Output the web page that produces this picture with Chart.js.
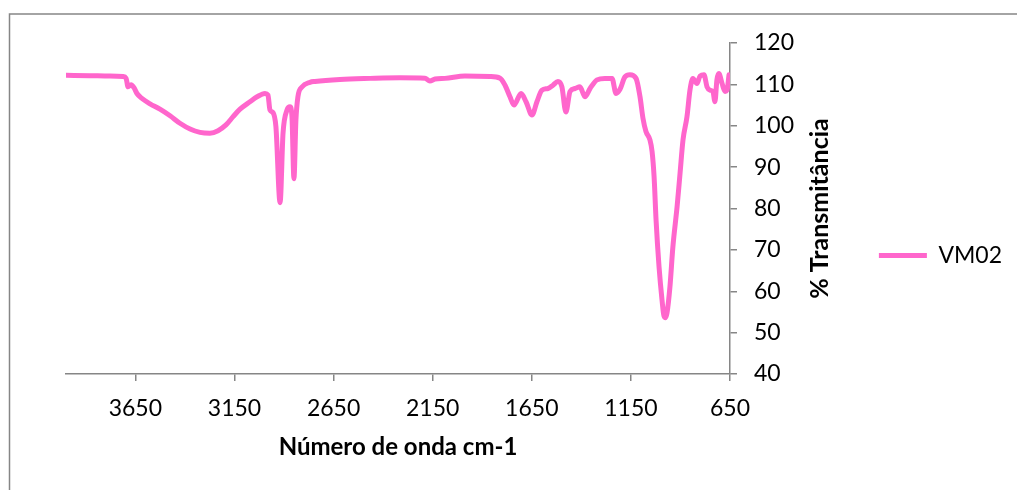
<!DOCTYPE html>
<html>
<head>
<meta charset="utf-8">
<script src="https://cdn.jsdelivr.net/npm/chart.js@4"></script>
<style>
  html, body { margin: 0; padding: 0; background: #fff; }
  #wrap { width: 1017px; height: 490px; }
</style>
</head>
<body>
<div id="wrap"><canvas id="ir" width="1017" height="490"></canvas></div>
<script>
// FTIR spectrum of sample VM02 (wavenumber in cm-1, transmittance in %)
const seriesName = 'VM02';
const wavenumbers = [4000, 3879, 3778, 3712, 3697, 3687, 3672, 3657, 3642, 3617, 3576, 3526, 3475, 3425, 3374, 3324, 3274, 3233, 3193, 3157, 3122, 3072, 3036, 2996, 2981, 2971, 2956, 2941, 2920, 2905, 2885, 2870, 2860, 2850, 2840, 2830, 2809, 2769, 2744, 2618, 2466, 2315, 2189, 2164, 2138, 2088, 1987, 1861, 1810, 1785, 1760, 1740, 1704, 1679, 1649, 1624, 1599, 1568, 1543, 1518, 1498, 1478, 1457, 1432, 1407, 1382, 1356, 1321, 1281, 1245, 1225, 1205, 1180, 1155, 1124, 1104, 1089, 1074, 1054, 1043, 1033, 1023, 1008, 993, 983, 975, 968, 953, 938, 917, 902, 887, 867, 852, 837, 817, 801, 781, 766, 751, 736, 726, 716, 706, 690, 675, 665, 655];
const transmittance = [112.2, 112.1, 112.0, 111.9, 111.5, 109.4, 109.9, 109.2, 107.8, 106.6, 105.3, 104.0, 102.4, 100.6, 99.2, 98.4, 98.2, 98.8, 100.2, 102.2, 104.0, 105.8, 107.0, 107.8, 107.4, 103.8, 103.2, 99.8, 81.4, 98.2, 103.8, 104.6, 102.2, 87.2, 101.4, 107.0, 109.4, 110.5, 110.7, 111.2, 111.45, 111.6, 111.5, 110.8, 111.3, 111.45, 112.0, 111.9, 111.5, 109.8, 107.0, 105.0, 107.8, 105.8, 102.6, 105.8, 108.6, 109.0, 109.8, 110.7, 109.4, 103.3, 108.3, 109.0, 109.4, 107.0, 109.0, 111.1, 111.45, 111.4, 107.8, 108.8, 111.8, 112.3, 111.45, 107.0, 101.8, 98.6, 96.6, 93.7, 87.7, 77.2, 65.9, 57.9, 54.0, 53.6, 54.7, 61.1, 70.8, 80.4, 88.5, 96.6, 102.2, 108.6, 111.45, 110.2, 112.0, 112.3, 109.4, 108.6, 108.3, 105.8, 111.1, 112.6, 110.2, 108.3, 108.6, 112.3];
const xTicks = [650, 1150, 1650, 2150, 2650, 3150, 3650];
const yTicks = [40, 50, 60, 70, 80, 90, 100, 110, 120];
const xTitle = 'Número de onda cm-1';
const yTitle = '% Transmitância';

const points = wavenumbers.map((w, i) => ({ x: w, y: transmittance[i] }));

const AXIS_GREY = '#868686';
const PLOT_RIGHT = 730;
const PAD_RIGHT = 5;

// outer frame of the chart object
const framePlugin = {
  id: 'frame',
  beforeDraw(chart) {
    const ctx = chart.ctx;
    ctx.save();
    ctx.strokeStyle = AXIS_GREY;
    ctx.lineWidth = 1.5;
    ctx.beginPath();
    ctx.moveTo(9.5, chart.height + 2);
    ctx.lineTo(9.5, 14);
    ctx.lineTo(chart.width + 2, 14);
    ctx.stroke();
    ctx.restore();
  }
};

// vertical axis title, reading bottom to top, beside the right-hand axis
const yTitlePlugin = {
  id: 'yTitle',
  afterDraw(chart) {
    const ctx = chart.ctx;
    const area = chart.chartArea;
    ctx.save();
    ctx.translate(820, (area.top + area.bottom) / 2);
    ctx.rotate(-Math.PI / 2);
    ctx.font = 'bold 25px Lato';
    ctx.fillStyle = '#000';
    ctx.textAlign = 'center';
    ctx.textBaseline = 'middle';
    ctx.fillText(yTitle, 0, 0);
    ctx.restore();
  }
};

new Chart(document.getElementById('ir'), {
  type: 'line',
  data: {
    datasets: [{
      label: seriesName,
      data: points,
      borderColor: '#FF66CC',
      backgroundColor: '#FF66CC',
      borderWidth: 5,
      borderCapStyle: 'round',
      borderJoinStyle: 'round',
      pointRadius: 0,
      cubicInterpolationMode: 'monotone',
      fill: false
    }]
  },
  options: {
    responsive: false,
    devicePixelRatio: 1,
    animation: false,
    events: [],
    layout: { padding: { left: 66, top: 43, right: PAD_RIGHT, bottom: 22 } },
    plugins: {
      tooltip: { enabled: false },
      legend: {
        position: 'right',
        labels: {
          usePointStyle: true,
          pointStyle: 'line',
          pointStyleWidth: 48,
          padding: 10,
          color: '#000',
          font: { family: 'Lato', size: 23 }
        }
      }
    },
    scales: {
      x: {
        type: 'linear',
        reverse: true,
        min: 650,
        max: 4000,
        afterBuildTicks(scale) { scale.ticks = xTicks.map(v => ({ value: v })); },
        afterFit(scale) { scale.height = 94; },
        border: { display: true, color: AXIS_GREY, width: 1.5 },
        grid: { drawOnChartArea: false, drawTicks: true, tickLength: 7, color: AXIS_GREY, lineWidth: 1.5 },
        ticks: {
          padding: 14,
          maxRotation: 0,
          autoSkip: false,
          color: '#000',
          font: { family: 'Lato', size: 23 },
          callback: v => String(v)
        },
        title: {
          display: true,
          text: xTitle,
          color: '#000',
          font: { family: 'Lato', size: 24, weight: 'bold' },
          padding: { top: 0, bottom: 6 }
        }
      },
      y: {
        position: 'right',
        min: 40,
        max: 120,
        afterBuildTicks(scale) { scale.ticks = yTicks.map(v => ({ value: v })); },
        afterFit(scale) {
          const lg = scale.chart.legend;
          const lw = lg ? lg.width : 0;
          scale.width = scale.chart.width - PAD_RIGHT - lw - PLOT_RIGHT;
        },
        border: { display: true, color: AXIS_GREY, width: 1.5 },
        grid: { drawOnChartArea: false, drawTicks: true, tickLength: 7, color: AXIS_GREY, lineWidth: 1.5 },
        ticks: {
          padding: 17,
          color: '#000',
          font: { family: 'Lato', size: 23 },
          callback: v => String(v)
        }
      }
    }
  },
  plugins: [framePlugin, yTitlePlugin]
});
</script>
</body>
</html>
